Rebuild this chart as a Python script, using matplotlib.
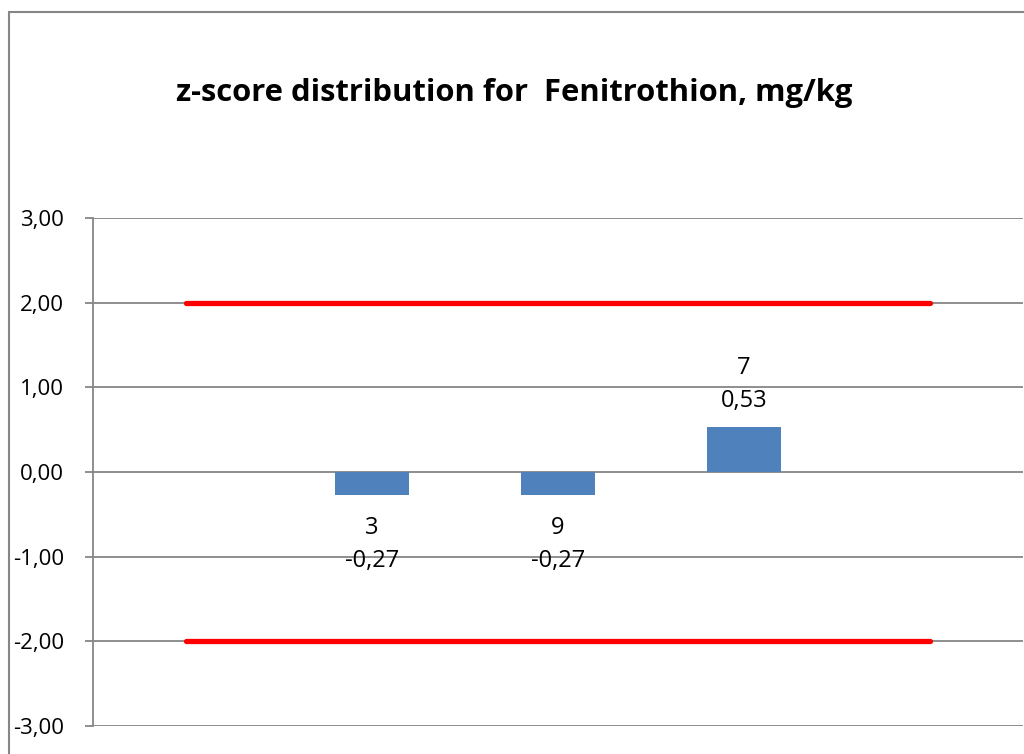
import matplotlib.pyplot as plt
from matplotlib.patches import Rectangle
from matplotlib.ticker import FuncFormatter

# lab codes on the category axis ('' = empty slot), z-scores
labs = ['', '3', '9', '7', '']
zscores = [None, -0.27, -0.27, 0.53, None]
limit_hi = 2.0
limit_lo = -2.0
yticks = [-3, -2, -1, 0, 1, 2, 3]

plt.rcParams['font.family'] = ['Open Sans', 'DejaVu Sans']

fig = plt.figure(figsize=(10.24, 7.54), dpi=100)
ax = fig.add_axes([93 / 1024, 28 / 754, 930 / 1024, 508 / 754])

x = list(range(len(labs)))
bx = [i for i, v in zip(x, zscores) if v is not None]
bv = [v for v in zscores if v is not None]
bl = [l for l, v in zip(labs, zscores) if v is not None]
ax.bar(bx, bv, width=0.4, color='#4F81BD', zorder=3)

for xi, v, lab in zip(bx, bv, bl):
    txt = f"{lab}\n{v:.2f}".replace('.', ',')
    if v >= 0:
        ax.annotate(txt, (xi, v), xytext=(0, 10), textcoords='offset points',
                    ha='center', va='bottom', fontsize=17, linespacing=1.5)
    else:
        ax.annotate(txt, (xi, v), xytext=(0, -15), textcoords='offset points',
                    ha='center', va='top', fontsize=17, linespacing=1.5)

ax.plot([x[0], x[-1]], [limit_hi, limit_hi], color='#FF0000', lw=3.8,
        solid_capstyle='round', zorder=4)
ax.plot([x[0], x[-1]], [limit_lo, limit_lo], color='#FF0000', lw=3.8,
        solid_capstyle='round', zorder=4)

ax.set_xlim(-0.5, len(labs) - 0.5)
ax.set_ylim(-3, 3)
ax.set_yticks(yticks)
ax.yaxis.set_major_formatter(FuncFormatter(lambda v, p: f"{v:.2f}".replace('.', ',')))
ax.set_xticks([])
ax.grid(axis='y', color='#868686', lw=1.3, zorder=0)
ax.tick_params(axis='y', length=6, width=1.3, color='#868686', labelsize=16, pad=15)
for s in ['top', 'right', 'bottom']:
    ax.spines[s].set_visible(False)
ax.spines['left'].set_color('#868686')
ax.spines['left'].set_linewidth(1.3)

fig.text(514 / 1024, 1 - 93 / 754, 'z-score distribution for  Fenitrothion, mg/kg',
         ha='center', va='center', fontsize=22.3, fontweight='bold')

fig.add_artist(Rectangle((9 / 1024, -0.1), 1.2, 1.1 - 12 / 754,
                         transform=fig.transFigure, fill=False,
                         edgecolor='#868686', lw=1.5))

fig.savefig('out.png', dpi=100)
